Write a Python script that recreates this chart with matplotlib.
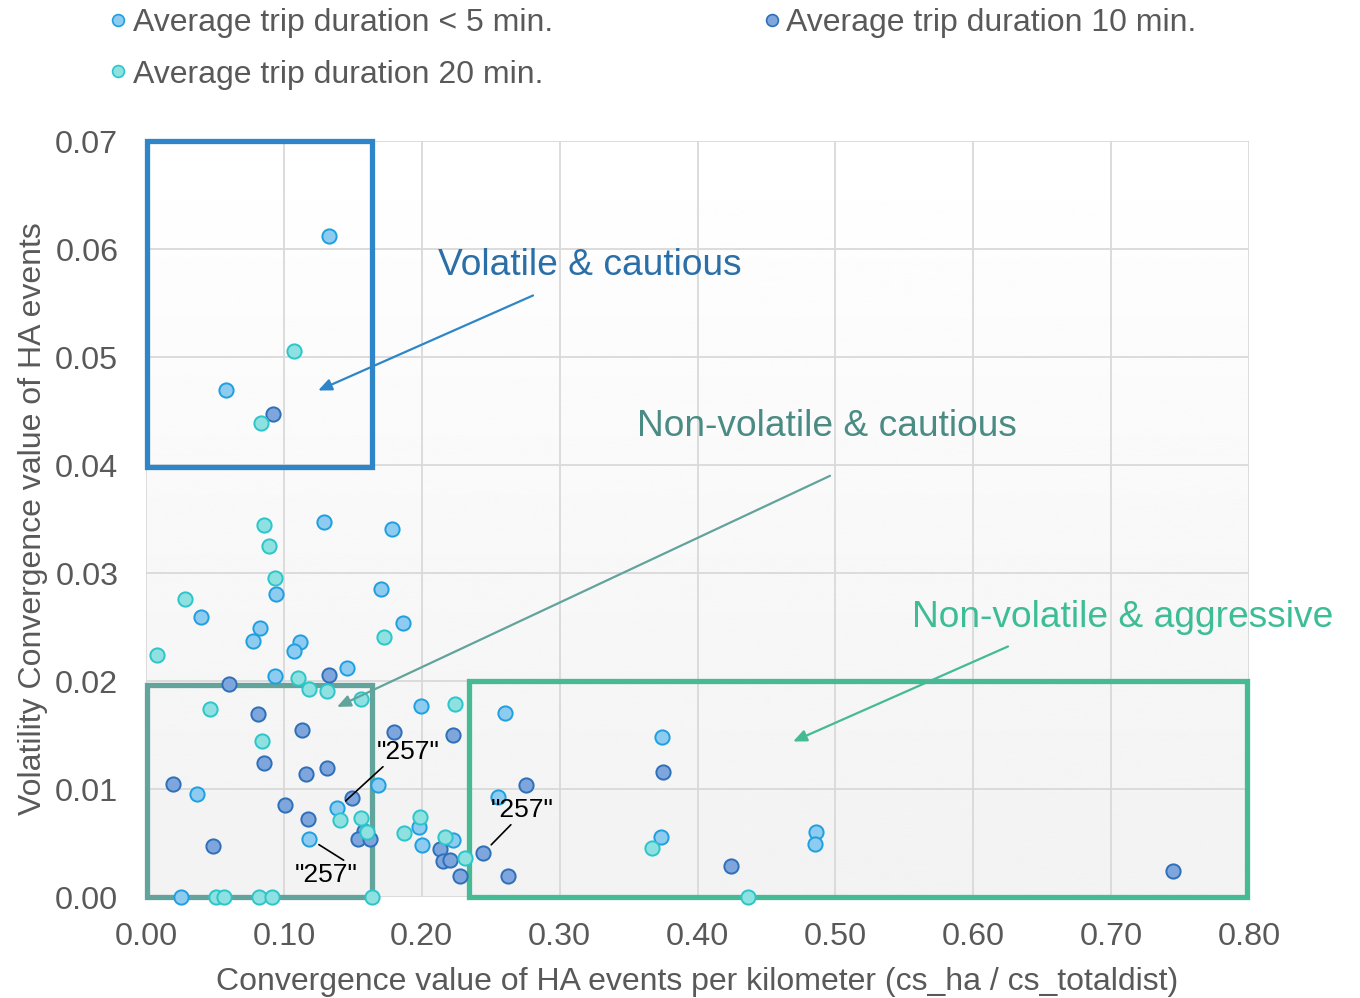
import numpy as np
import matplotlib.pyplot as plt
from matplotlib.patches import Rectangle
from matplotlib.lines import Line2D

plt.rcParams['font.family'] = ['Liberation Sans', 'DejaVu Sans']

# data
names = ['Average trip duration < 5 min.', 'Average trip duration 10 min.', 'Average trip duration 20 min.']

x_5min = [0.1327, 0.058, 0.1293, 0.1782, 0.0945, 0.1707, 0.0397, 0.1866, 0.0824, 0.0779,
          0.1114, 0.1073, 0.146, 0.0936, 0.1995, 0.168, 0.0368, 0.1388, 0.1185, 0.198,
          0.2, 0.2229, 0.0252, 0.2601, 0.2555, 0.3743, 0.3735, 0.4857, 0.4852]
y_5min = [0.0612, 0.0469, 0.03475, 0.0341, 0.0281, 0.0285, 0.0259, 0.0254, 0.0249, 0.0237,
          0.0236, 0.0228, 0.0212, 0.0205, 0.0177, 0.0104, 0.0095, 0.0082, 0.0054, 0.0065,
          0.0048, 0.0053, 0.0, 0.0170, 0.0093, 0.0148, 0.0056, 0.0060, 0.0049]

x_10min = [0.0921, 0.133, 0.0604, 0.0815, 0.1129, 0.0856, 0.116, 0.1313, 0.0196, 0.1492,
           0.1008, 0.1178, 0.1581, 0.1535, 0.1625, 0.0484, 0.1801, 0.2224, 0.2132, 0.2152,
           0.2205, 0.2277, 0.2754, 0.2447, 0.2626, 0.375, 0.4243, 0.7449]
y_10min = [0.0447, 0.0206, 0.0197, 0.0169, 0.0155, 0.0124, 0.0114, 0.0119, 0.0105, 0.0092,
           0.0085, 0.0072, 0.0061, 0.0054, 0.0054, 0.0047, 0.0153, 0.0150, 0.0044, 0.0033,
           0.0034, 0.0019, 0.0104, 0.0041, 0.0019, 0.0116, 0.0029, 0.0024]

x_20min = [0.1073, 0.0834, 0.0856, 0.089, 0.0936, 0.0285, 0.1724, 0.0077, 0.1102, 0.118,
           0.131, 0.1557, 0.0462, 0.0844, 0.1407, 0.1559, 0.16, 0.2241, 0.1987, 0.1873,
           0.2169, 0.2314, 0.0508, 0.0566, 0.0822, 0.0916, 0.1637, 0.367, 0.4366]
y_20min = [0.0506, 0.0439, 0.0344, 0.0325, 0.0295, 0.0276, 0.0241, 0.0224, 0.0203, 0.0193,
           0.0191, 0.0183, 0.0174, 0.0144, 0.0071, 0.0073, 0.0060, 0.0179, 0.0074, 0.0059,
           0.0056, 0.0036, 0.0, 0.0, 0.0, 0.0, 0.0, 0.0045, 0.0]

# the three labelled "257" points
hl_x = [0.1388, 0.1185, 0.2447]
hl_y = [0.0082, 0.0054, 0.0041]

xticks = [0.0, 0.1, 0.2, 0.3, 0.4, 0.5, 0.6, 0.7, 0.8]
yticks = [0.0, 0.01, 0.02, 0.03, 0.04, 0.05, 0.06, 0.07]

fills = ['#8ecbf0', '#7ea6dc', '#8fe0e0']
edges = ['#1ea0e0', '#2e6fba', '#2ac6c9']
txt = '#595959'

fig = plt.figure(figsize=(13.6, 9.98), dpi=100)
ax = fig.add_axes([0.1074, 0.1012, 0.8110, 0.7575])

# faint vertical gradient in the plot area
grad = np.linspace(0.95, 1.0, 256).reshape(-1, 1)
ax.imshow(grad, extent=[0, 1, 0, 1], transform=ax.transAxes, cmap='gray', vmin=0, vmax=1,
          aspect='auto', zorder=0, origin='lower')

series = [(x_5min, y_5min), (x_10min, y_10min), (x_20min, y_20min)]
for (xs, ys), f, e in zip(series, fills, edges):
    ax.scatter(xs, ys, s=105, c=f, edgecolors=e, linewidths=1.4, zorder=4, clip_on=False)

ax.set_xlim(0, 0.8)
ax.set_ylim(0, 0.07)
ax.set_xticks(xticks)
ax.set_yticks(yticks)
ax.set_xticklabels(['%.2f' % v for v in xticks])
ax.set_yticklabels(['%.2f' % v for v in yticks])
ax.tick_params(length=0, labelsize=23.3, labelcolor=txt)
ax.tick_params(axis='x', pad=18)
ax.tick_params(axis='y', pad=20)
ax.grid(True, color='#d9d9d9', lw=1.3, zorder=1)
ax.set_axisbelow(True)
for s in ax.spines.values():
    s.set_visible(False)

ax.set_xlabel('Convergence value of HA events per kilometer (cs_ha / cs_totaldist)',
              fontsize=23, color=txt, labelpad=11)
ax.set_ylabel('Volatility Convergence value of HA events', fontsize=23, color=txt, labelpad=5)

# boxes
boxes = [((0.0007, 0.0398), 0.1633, 0.0302, '#2e86c8'),
         ((0.0007, 0.0), 0.1633, 0.0196, '#62a39b'),
         ((0.2343, 0.0), 0.5642, 0.0200, '#45ba94')]
for (x0, y0), w, h, col in boxes:
    ax.add_patch(Rectangle((x0, y0), w, h, fill=False, ec=col, lw=3.8, zorder=3, clip_on=False))

# labelled arrows
notes = [('Volatile & cautious', (0.2118, 0.0585), (0.2807, 0.0557), (0.1248, 0.0469), '#2a6fa8', '#2e86c8'),
         ('Non-volatile & cautious', (0.3561, 0.0436), (0.4961, 0.0390), (0.1385, 0.0176), '#4a8b84', '#62a39b'),
         ('Non-volatile & aggressive', (0.5556, 0.0259), (0.6252, 0.0232), (0.4693, 0.0144), '#3dbd95', '#45ba94')]
for label, tpos, tail, head, tc, ac in notes:
    ax.text(tpos[0], tpos[1], label, fontsize=26.7, color=tc, va='center', ha='left', clip_on=False)
    ax.annotate('', xy=head, xytext=tail,
                arrowprops=dict(arrowstyle='-|>,head_length=0.8,head_width=0.35', color=ac, lw=1.6,
                                shrinkA=0, shrinkB=0), zorder=5)

# "257" call-outs
callouts = [((0.190, 0.01343), (0.15, 0.0)),
            ((0.131, 0.00204), (0.84, 1.0)),
            ((0.2725, 0.00806), (0.37, 0.0))]
for px, py, (tpos, rel) in zip(hl_x, hl_y, callouts):
    ax.annotate('"257"', xy=(px, py), xytext=tpos, fontsize=19, color='black',
                ha='center', va='center', zorder=6,
                arrowprops=dict(arrowstyle='-', color='black', lw=1.2, relpos=rel,
                                shrinkA=0, shrinkB=8))

handles = [Line2D([], [], ls='none', marker='o', ms=8.5, mfc=f, mec=e, mew=1.2)
           for f, e in zip(fills, edges)]
# column-major fill: put the 20 min entry under the < 5 min one
order = [0, 2, 1]
leg = fig.legend([handles[i] for i in order], [names[i] for i in order],
                 loc='upper left', bbox_to_anchor=(0.060, 1.021), ncol=2,
                 frameon=False, fontsize=23, handlelength=0.5, handletextpad=0.2,
                 columnspacing=6.6, labelspacing=0.68)
for t in leg.get_texts():
    t.set_color(txt)

fig.savefig('out.png', dpi=100)
